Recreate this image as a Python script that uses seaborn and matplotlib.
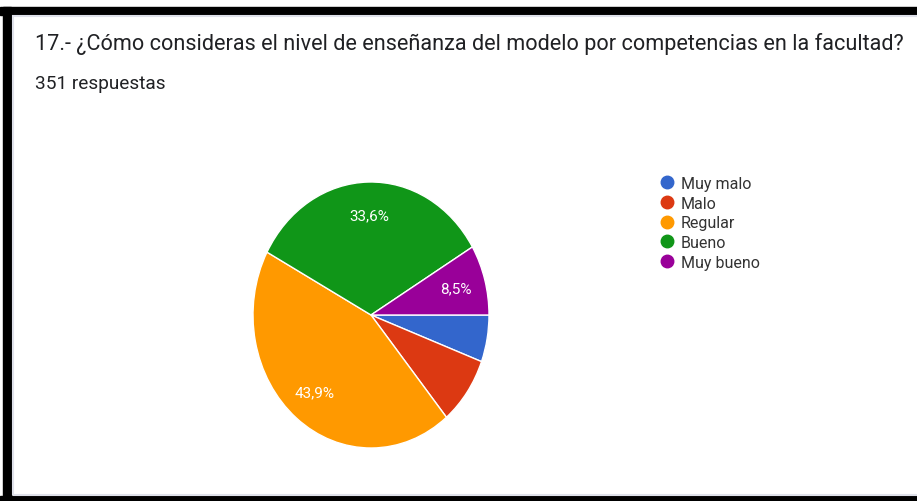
import matplotlib.pyplot as plt
from matplotlib import font_manager
from matplotlib.lines import Line2D
from matplotlib.patches import Rectangle
import seaborn as sns

# Data (351 answers)
categories = ["Muy malo", "Malo", "Regular", "Bueno", "Muy bueno"]
counts = [20, 29, 154, 118, 30]
colors = ["#3366cc", "#dc3912", "#ff9900", "#109618", "#990099"]
title = "17.- ¿Cómo consideras el nivel de enseñanza del modelo por competencias en la facultad?"
subtitle = "351 respuestas"

W, H = 917, 502


def pick_font():
    names = {f.name for f in font_manager.fontManager.ttflist}
    for n in ["Liberation Sans Narrow", "Roboto", "DejaVu Sans"]:
        if n in names:
            return n
    return "DejaVu Sans"


def pct_label(pct):
    if pct < 8.4:
        return ""
    return "{:.1f}%".format(pct).replace(".", ",")


def fit_width(fig, txt, target):
    # scale font size so the text spans target pixels
    fig.canvas.draw()
    w = txt.get_window_extent().width
    txt.set_fontsize(txt.get_fontsize() * target / w)


def main():
    sns.set_theme(style="white")
    font = pick_font()
    plt.rcParams["font.family"] = [font, "DejaVu Sans"]

    fig = plt.figure(figsize=(W / 100, H / 100), dpi=100)
    fig.patch.set_facecolor("white")

    # Screenshot frame: black bands on top, left and bottom
    fig.patches.append(Rectangle((0, 1 - 16 / H), 1, 8 / H, transform=fig.transFigure,
                                 color="black", zorder=0))
    fig.patches.append(Rectangle((3 / W, 0), 8 / W, 1 - 8 / H, transform=fig.transFigure,
                                 color="black", zorder=0))
    fig.patches.append(Rectangle((0, 0), 1, 5 / H, transform=fig.transFigure,
                                 color="black", zorder=0))
    # light card border
    fig.patches.append(Rectangle((13 / W, 6 / H), 1, 1 - 23 / H, transform=fig.transFigure,
                                 facecolor="none", edgecolor="#dfe1ea", lw=1.5, zorder=0))

    # Title and subtitle, scaled to the measured widths
    t = fig.text(35 / W, 1 - 44 / H, title, fontsize=16, color="#202124", va="center", ha="left")
    fit_width(fig, t, 870)
    s = fig.text(35 / W, 1 - 84 / H, subtitle, fontsize=10, color="#202124", va="center", ha="left")
    fit_width(fig, s, 131)

    # Pie (ellipse: wider than tall in the screenshot's stretch)
    cx, cy, rx, ry = 371, 316, 118, 133
    ax = fig.add_axes([(cx - rx) / W, (H - cy - ry) / H, 2 * rx / W, 2 * ry / H])
    wedges, texts, autotexts = ax.pie(
        counts, colors=colors, startangle=0, counterclock=False,
        autopct=pct_label, pctdistance=0.75,
        wedgeprops=dict(edgecolor="white", linewidth=1),
        textprops=dict(color="white", fontsize=11),
    )
    ax.set_aspect("auto")
    ax.set_xlim(-1, 1)
    ax.set_ylim(-1, 1)
    ax.axis("off")

    # Legend
    handles = [Line2D([0], [0], marker="o", linestyle="", markersize=9,
                      markerfacecolor=c, markeredgecolor=c) for c in colors]
    fig.legend(handles, categories, loc="upper left",
               bbox_to_anchor=(659 / W, 1 - 177 / H), frameon=False,
               fontsize=11.5, handletextpad=0.35, labelspacing=0.29,
               handlelength=1.0, borderaxespad=0, borderpad=0,
               labelcolor="#333333")

    fig.savefig("out.png", dpi=100)


if __name__ == "__main__":
    main()
